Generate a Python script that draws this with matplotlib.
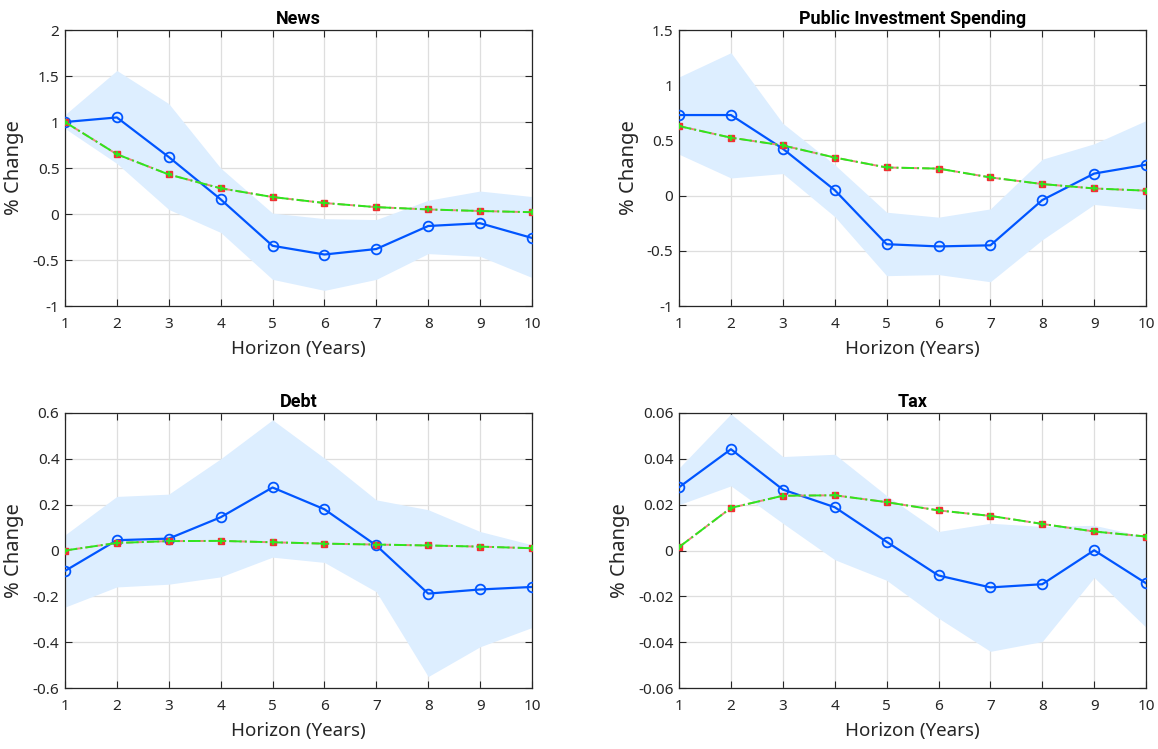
import numpy as np
import matplotlib
matplotlib.use("Agg")
import matplotlib.pyplot as plt
from matplotlib.ticker import FuncFormatter

horizon = np.arange(1, 11)

titles = ["News", "Public Investment Spending", "Debt", "Tax"]

news_irf = [1.0, 1.05, 0.62, 0.16, -0.345, -0.44, -0.38, -0.13, -0.10, -0.26]
news_model = [1.0, 0.65, 0.43, 0.28, 0.185, 0.12, 0.075, 0.05, 0.033, 0.02]
news_hi = [1.08, 1.56, 1.2, 0.5, 0.01, -0.05, -0.06, 0.15, 0.25, 0.19]
news_lo = [0.93, 0.55, 0.05, -0.2, -0.71, -0.83, -0.71, -0.43, -0.46, -0.69]

inv_irf = [0.73, 0.73, 0.425, 0.05, -0.44, -0.46, -0.45, -0.04, 0.2, 0.28]
inv_model = [0.63, 0.525, 0.455, 0.345, 0.255, 0.245, 0.165, 0.105, 0.065, 0.045]
inv_hi = [1.075, 1.295, 0.655, 0.28, -0.15, -0.195, -0.12, 0.33, 0.47, 0.68]
inv_lo = [0.375, 0.16, 0.2, -0.19, -0.725, -0.715, -0.78, -0.4, -0.08, -0.125]

debt_irf = [-0.089, 0.045, 0.052, 0.145, 0.275, 0.18, 0.022, -0.188, -0.17, -0.159]
debt_model = [0.0, 0.033, 0.041, 0.042, 0.036, 0.03, 0.026, 0.022, 0.017, 0.01]
debt_hi = [0.068, 0.236, 0.246, 0.4, 0.57, 0.403, 0.221, 0.178, 0.083, 0.025]
debt_lo = [-0.247, -0.159, -0.147, -0.115, -0.029, -0.052, -0.18, -0.55, -0.42, -0.336]

tax_irf = [0.0276, 0.0442, 0.0266, 0.0189, 0.0038, -0.0109, -0.0161, -0.0147, 0.0001, -0.0143]
tax_model = [0.0015, 0.0186, 0.0239, 0.0241, 0.0211, 0.0175, 0.0151, 0.0116, 0.0083, 0.0061]
tax_hi = [0.036, 0.0596, 0.041, 0.042, 0.024, 0.0083, 0.0119, 0.0105, 0.011, 0.006]
tax_lo = [0.02, 0.0282, 0.0119, -0.004, -0.013, -0.0295, -0.044, -0.0397, -0.0118, -0.0335]

ylims = [(-1, 2), (-1, 1.5), (-0.6, 0.6), (-0.06, 0.06)]
ysteps = [0.5, 0.5, 0.2, 0.02]

panels = [
    (news_irf, news_model, news_hi, news_lo),
    (inv_irf, inv_model, inv_hi, inv_lo),
    (debt_irf, debt_model, debt_hi, debt_lo),
    (tax_irf, tax_model, tax_hi, tax_lo),
]

positions = [
    [0.0561, 0.5914, 0.4033, 0.3685],
    [0.5864, 0.5914, 0.4033, 0.3685],
    [0.0561, 0.0814, 0.4033, 0.3672],
    [0.5864, 0.0814, 0.4033, 0.3672],
]

plt.rcParams["font.family"] = ["Noto Sans", "DejaVu Sans"]
plt.rcParams["axes.unicode_minus"] = False

fig = plt.figure(figsize=(11.58, 7.49), dpi=100)

for i, (irf, model, hi, lo) in enumerate(panels):
    ax = fig.add_axes(positions[i])
    ax.fill_between(horizon, lo, hi, color="#ddeeff", linewidth=0, zorder=1)
    ax.plot(horizon, irf, color="#0055ff", lw=1.6, marker="o", ms=7,
            mfc="none", mec="#0055ff", mew=1.3, zorder=3)
    ax.plot(horizon, model, color="#f08080", lw=1.4, ls="--", marker="s",
            ms=4.5, mfc="#ee3333", mec="#ee3333", zorder=4)
    ax.plot(horizon, model, color="#2ee61e", lw=1.4, ls="-.", marker="+",
            ms=5, mew=1.3, zorder=5)

    lo_y, hi_y = ylims[i]
    ax.set_xlim(1, 10)
    ax.set_ylim(lo_y, hi_y)
    ax.set_xticks(horizon)
    ax.set_yticks(np.round(np.arange(lo_y, hi_y + ysteps[i] / 2, ysteps[i]), 4))
    ax.yaxis.set_major_formatter(FuncFormatter(lambda v, p: f"{v:g}"))
    ax.grid(True, color="#dedede", lw=0.9, zorder=0)
    ax.set_axisbelow(True)
    ax.tick_params(direction="in", top=True, right=True, length=5,
                   labelsize=11, colors="#262626")
    ax.tick_params(axis="x", pad=8)
    ax.tick_params(axis="y", pad=4)
    for s in ax.spines.values():
        s.set_color("#262626")
        s.set_linewidth(0.9)
    ax.set_title(titles[i], fontsize=13, fontweight="bold", pad=4,
                 family=["Roboto", "DejaVu Sans"])
    ax.set_xlabel("Horizon (Years)", fontsize=13.5, color="#262626", labelpad=6)
    ax.set_ylabel("% Change", fontsize=14.5, color="#262626", labelpad=6)

fig.savefig("out.png", dpi=100)
